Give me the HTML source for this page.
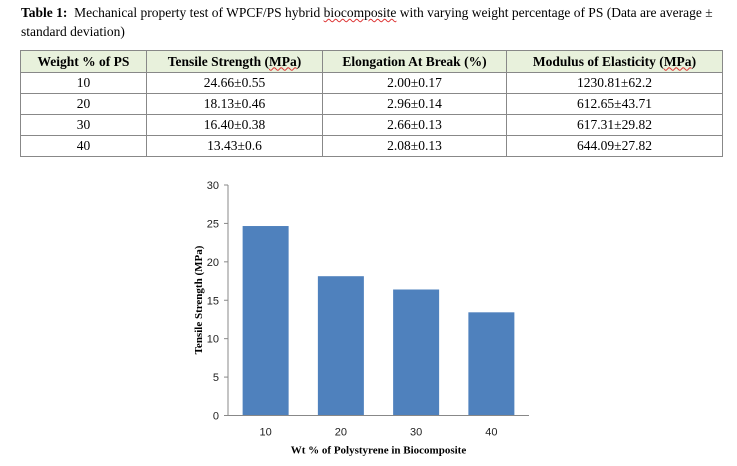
<!DOCTYPE html>
<html><head><meta charset="utf-8"><style>
body{margin:0;width:737px;height:466px;background:#fff;font-family:"Liberation Serif",serif;overflow:hidden;position:relative}
#title{position:absolute;left:21px;top:3px;width:715px;font-size:13.5px;line-height:19px;color:#000}
table{position:absolute;left:20px;top:50px;border-collapse:collapse;font-size:13.5px}
td,th{border:1px solid #888;text-align:center;padding:0;height:20px}
th{background:#e8f1dc;height:21px;font-weight:bold}
.sq{text-decoration:underline wavy #d33;text-decoration-thickness:1px}
</style></head><body>
<div id="title"><b>Table 1:</b>&nbsp; Mechanical property test of WPCF/PS hybrid <span class="sq">biocomposite</span> with varying weight percentage of PS (Data are average ± standard deviation)</div>
<table>
<tr><th style="width:125px">Weight % of PS</th><th style="width:175px">Tensile Strength (<span class="sq">MPa</span>)</th><th style="width:183px">Elongation At Break (%)</th><th style="width:215px">Modulus of Elasticity (<span class="sq">MPa</span>)</th></tr>
<tr><td>10</td><td>24.66±0.55</td><td>2.00±0.17</td><td>1230.81±62.2</td></tr>
<tr><td>20</td><td>18.13±0.46</td><td>2.96±0.14</td><td>612.65±43.71</td></tr>
<tr><td>30</td><td>16.40±0.38</td><td>2.66±0.13</td><td>617.31±29.82</td></tr>
<tr><td>40</td><td>13.43±0.6</td><td>2.08±0.13</td><td>644.09±27.82</td></tr>
</table>
<svg id="chart" width="737" height="466" style="position:absolute;left:0;top:0"></svg>
<script>
const categories=["10","20","30","40"];
const values=[24.66,18.13,16.40,13.43];
const yTicks=[0,5,10,15,20,25,30];
const svg=document.getElementById('chart');
const NS='http://www.w3.org/2000/svg';
const x0=228,x1=529,yBase=415.5,yTop=185,yMax=30;
const y=v=>yBase-(v/yMax)*(yBase-yTop);
const band=(x1-x0)/categories.length;
const xc=i=>x0+band*(i+0.5);
function mk(t,a){const e=document.createElementNS(NS,t);for(const k in a)e.setAttribute(k,a[k]);svg.appendChild(e);return e;}
yTicks.forEach(t=>{
 const l=mk('line',{x1:x0-4,x2:x0,y1:y(t),y2:y(t),stroke:'#888'});
 
 
 const tx=mk('text',{x:x0-9,y:y(t)+4,'text-anchor':'end','font-size':'11','font-family':'Liberation Sans, sans-serif',fill:'#222'});
 tx.textContent=t;
 
 
});
values.forEach((v,i)=>{
 const r=mk('rect',{x:xc(i)-23,y:y(v),width:46,height:yBase-y(v),fill:'#4f81bd'});
 
 
 const tx=mk('text',{x:xc(i),y:yBase+20,'text-anchor':'middle','font-size':'11','font-family':'Liberation Sans, sans-serif',fill:'#222'});
 tx.textContent=categories[i];
 
 
});
const ya=mk('line',{x1:x0,x2:x0,y1:yTop,y2:yBase,stroke:'#888'});


const xa=mk('line',{x1:x0,x2:x1,y1:yBase,y2:yBase,stroke:'#888'});


const xt=mk('text',{x:(x0+x1)/2,y:yBase+38,'text-anchor':'middle','font-size':'11','font-weight':'bold','font-family':'Liberation Serif, serif'});
xt.textContent='Wt % of Polystyrene in Biocomposite';


const yt=mk('text',{x:0,y:0,'text-anchor':'middle','font-size':'11','font-weight':'bold','font-family':'Liberation Serif, serif',transform:'translate(202,300) rotate(-90)'});
yt.textContent='Tensile Strength (MPa)';


</script>
</body></html>
